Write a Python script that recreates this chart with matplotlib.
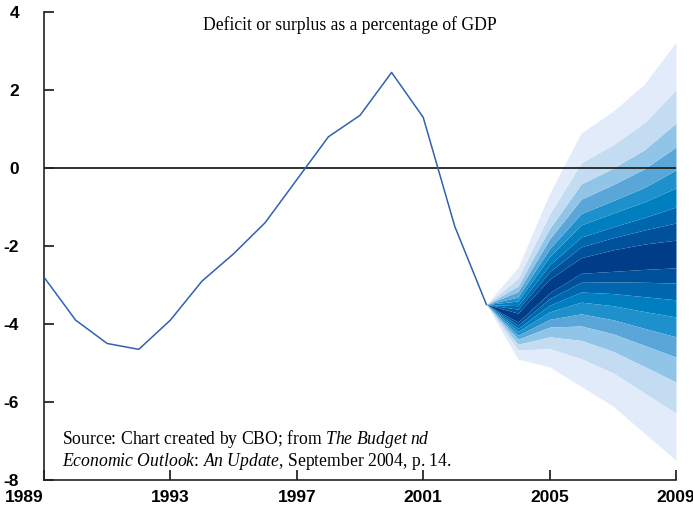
import numpy as np
import matplotlib.pyplot as plt

# actual deficit/surplus, percent of GDP
years = [1989, 1990, 1991, 1992, 1993, 1994, 1995, 1996, 1997, 1998, 1999, 2000, 2001, 2002, 2003]
balance = [-2.8, -3.9, -4.5, -4.65, -3.9, -2.9, -2.2, -1.4, -0.3, 0.8, 1.35, 2.45, 1.3, -1.5, -3.5]

# projection fan, band edges from the inner (darkest) band out
fan_years = [2003, 2004, 2005, 2006, 2007, 2008, 2009]
upper_edges = [
    [-3.5, -3.72, -2.85, -2.30, -2.10, -1.95, -1.85],
    [-3.5, -3.62, -2.66, -2.02, -1.79, -1.59, -1.41],
    [-3.5, -3.53, -2.48, -1.77, -1.51, -1.27, -1.00],
    [-3.5, -3.41, -2.27, -1.46, -1.16, -0.87, -0.51],
    [-3.5, -3.31, -2.07, -1.17, -0.84, -0.50, -0.05],
    [-3.5, -3.17, -1.82, -0.80, -0.43, -0.02, 0.54],
    [-3.5, -3.03, -1.55, -0.41, -0.01, 0.47, 1.15],
    [-3.5, -2.83, -1.18, 0.13, 0.59, 1.16, 2.00],
    [-3.5, -2.55, -0.65, 0.90, 1.45, 2.15, 3.23],
]
lower_edges = [
    [-3.5, -3.95, -3.20, -2.70, -2.65, -2.60, -2.56],
    [-3.5, -4.03, -3.35, -2.93, -2.92, -2.93, -2.95],
    [-3.5, -4.11, -3.52, -3.18, -3.22, -3.30, -3.38],
    [-3.5, -4.19, -3.69, -3.44, -3.53, -3.68, -3.82],
    [-3.5, -4.29, -3.88, -3.74, -3.89, -4.11, -4.33],
    [-3.5, -4.39, -4.08, -4.05, -4.25, -4.55, -4.85],
    [-3.5, -4.52, -4.33, -4.42, -4.70, -5.09, -5.49],
    [-3.5, -4.67, -4.63, -4.89, -5.25, -5.77, -6.28],
    [-3.5, -4.90, -5.10, -5.60, -6.10, -6.80, -7.49],
]
band_colors = ['#003c87', '#00519c', '#0067ae', '#007fc0', '#1e90cb',
               '#5aa6d8', '#91c5e7', '#c3dcf2', '#e2ebf9']

x_ticks = [1989, 1993, 1997, 2001, 2005, 2009]
y_ticks = [-8, -6, -4, -2, 0, 2, 4]


def plot_fan(ax):
    ax.fill_between(fan_years, lower_edges[0], upper_edges[0], color=band_colors[0], lw=0)
    for i in range(1, len(upper_edges)):
        ax.fill_between(fan_years, upper_edges[i - 1], upper_edges[i], color=band_colors[i], lw=0)
        ax.fill_between(fan_years, lower_edges[i], lower_edges[i - 1], color=band_colors[i], lw=0)


def main():
    plt.rcParams['mathtext.fontset'] = 'custom'
    plt.rcParams['mathtext.rm'] = 'Liberation Serif'
    plt.rcParams['mathtext.it'] = 'Liberation Serif:italic'

    fig = plt.figure(figsize=(6.93, 5.12), dpi=100)
    ax = fig.add_axes([44 / 693, 32 / 512, 632 / 693, 468 / 512])

    plot_fan(ax)
    ax.plot(years, balance, color='#2f62b0', lw=1.1, zorder=3)
    ax.axhline(0, color='#222222', lw=1.3, zorder=2)

    ax.set_xlim(1989, 2009)
    ax.set_ylim(-8, 4)
    ax.spines['top'].set_visible(False)
    ax.spines['right'].set_visible(False)
    for side in ['left', 'bottom']:
        ax.spines[side].set_linewidth(1.2)
        ax.spines[side].set_color('#222222')

    ax.set_xticks(x_ticks)
    ax.set_xticklabels([str(y) for y in x_ticks], fontfamily='Liberation Sans',
                       fontweight='bold', fontsize=12.5)
    ax.get_xticklabels()[0].set_horizontalalignment('right')
    ax.set_yticks(y_ticks)
    ax.set_yticklabels([str(v) for v in y_ticks], fontfamily='Liberation Sans',
                       fontweight='bold', fontsize=12.5)
    ax.tick_params(axis='x', direction='in', length=7, width=1.1, pad=7)
    ax.tick_params(axis='y', direction='in', length=7, width=1.1, pad=18)

    fig.text(350 / 693, 1 - 25 / 512, 'Deficit or surplus as a percentage of GDP',
             fontfamily='Liberation Serif', fontsize=12.7, ha='center', va='center')

    source = ('Source: Chart created by CBO; from $\\mathit{The\\ Budget\\ nd}$\n'
              '$\\mathit{Economic\\ Outlook}$: $\\mathit{An\\ Update}$, September 2004, p. 14.')
    fig.text(62 / 693, 1 - 466 / 512, source, fontfamily='Liberation Serif',
             fontsize=12.7, ha='left', va='baseline', linespacing=1.05)

    fig.savefig('out.png', dpi=100)


if __name__ == '__main__':
    main()
